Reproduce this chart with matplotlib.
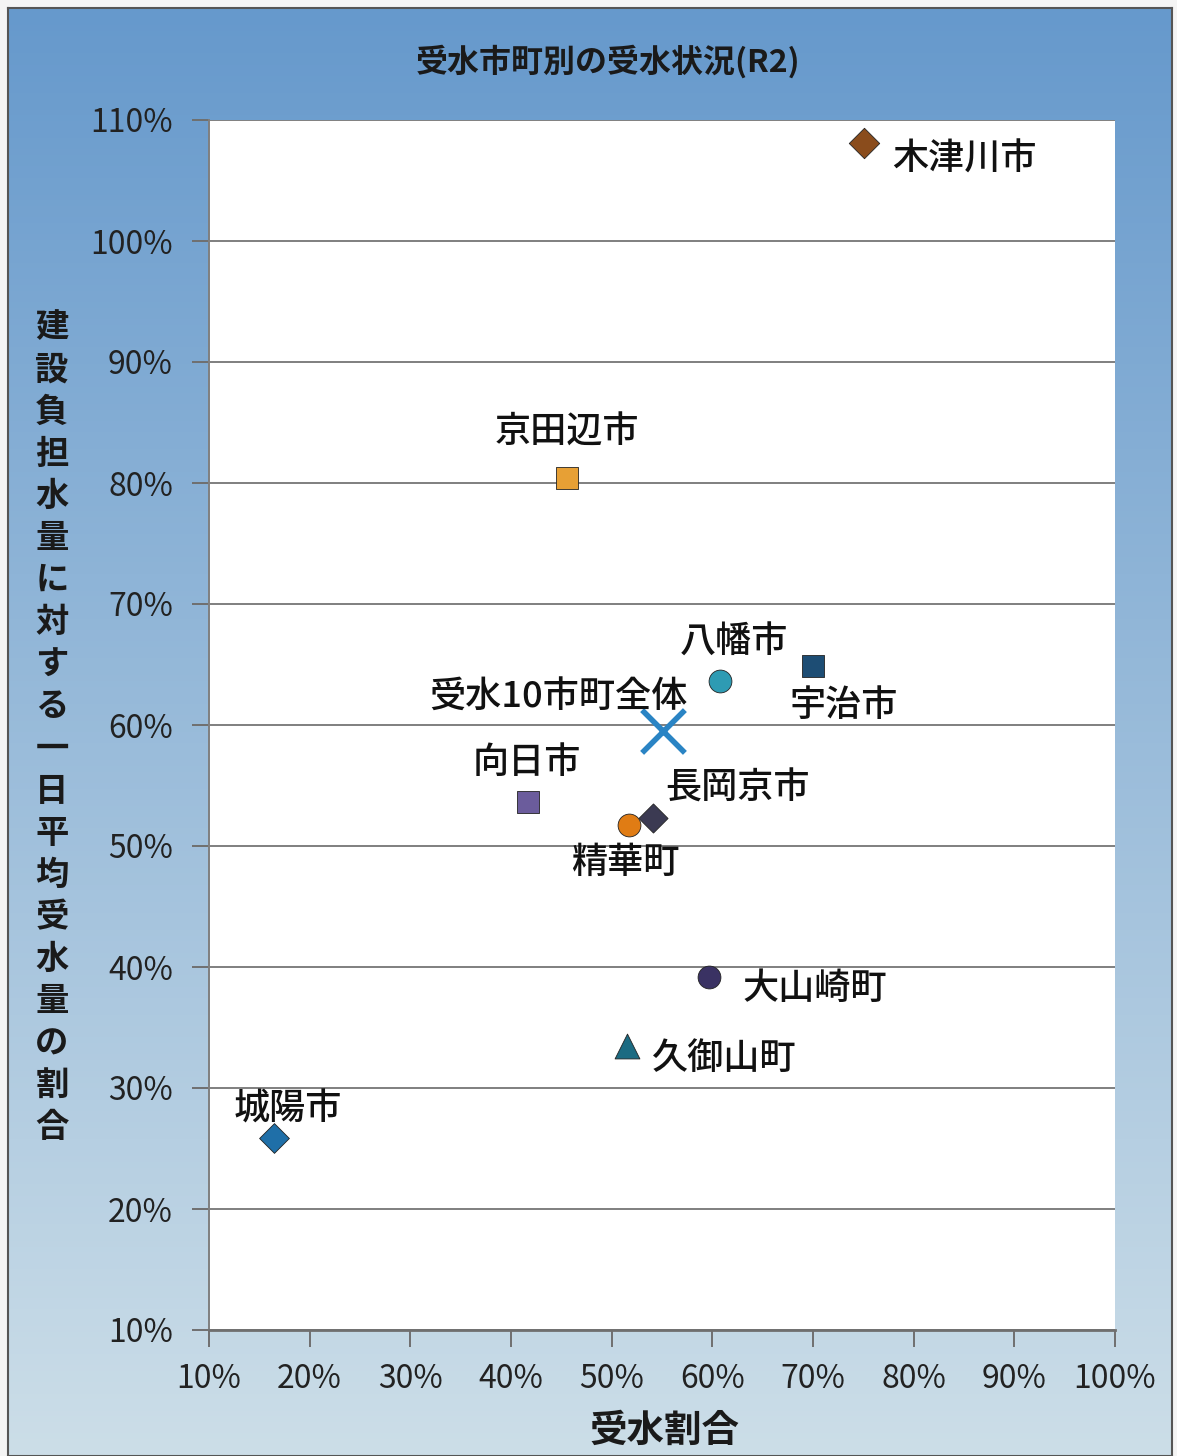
import numpy as np
import matplotlib
matplotlib.use('Agg')
import matplotlib.pyplot as plt

plt.rcParams['font.family'] = ['Noto Sans CJK JP', 'DejaVu Sans']

# data (percent)
names = ['木津川市', '京田辺市', '八幡市', '宇治市', '受水10市町全体', '向日市',
         '長岡京市', '精華町', '大山崎町', '久御山町', '城陽市']
share = [75.1, 45.6, 60.8, 70.0, 55.1, 41.7, 54.1, 51.7, 59.7, 51.5, 16.5]
burden = [108.1, 80.4, 63.6, 64.9, 59.5, 53.6, 52.3, 51.7, 39.2, 33.5, 25.9]
ticks = [10, 20, 30, 40, 50, 60, 70, 80, 90, 100, 110]

# marker styles and label offsets (pixels)
markers = ['D', 's', 'o', 's', 'x', 's', 'D', 'o', 'o', '^', 'D']
colors = ['#8a4c1c', '#e7a035', '#2e9bb3', '#1d4d74', '#2a84c4', '#6b5c9c',
          '#3b3a52', '#e07c14', '#3a3263', '#1c6b82', '#1f6fa8']
sizes = [240, 250, 270, 250, 950, 250, 220, 270, 270, 320, 230]
offsets = [(28, -17, 'left'), (0, 46, 'center'), (14, 39, 'center'),
           (-23, -40, 'left'), (25, 34, 'right'), (-1, 39, 'center'),
           (12, 30, 'left'), (-3, -38, 'center'), (33, -12, 'left'),
           (25, -13, 'left'), (13, 28, 'center')]

fig = plt.figure(figsize=(11.77, 14.56), dpi=100)
fig.patch.set_facecolor('#f4f4f4')

# gradient background panel
bg = fig.add_axes([8/1177, 0, 1164/1177, 1448/1456])
grad = np.linspace(0, 1, 256)[:, None]
top = np.array([0.40, 0.60, 0.80])
bot = np.array([0.80, 0.87, 0.91])
img = top[None, None, :] * (1 - grad[..., None]) + bot[None, None, :] * grad[..., None]
bg.imshow(np.repeat(img, 2, axis=1), aspect='auto', extent=[0, 1, 0, 1])
bg.set_xticks([])
bg.set_yticks([])
for s in bg.spines.values():
    s.set_color('#555555')
    s.set_linewidth(1.5)

ax = fig.add_axes([209/1177, 1 - 1330/1456, 906/1177, 1210/1456])
ax.set_facecolor('white')
ax.set_xlim(10, 100)
ax.set_ylim(10, 110)
ax.set_xticks(ticks[:-1])
ax.set_yticks(ticks)
ax.set_xticklabels([f'{t}%' for t in ticks[:-1]])
ax.set_yticklabels([f'{t}%' for t in ticks])
ax.grid(axis='y', color='#7f7f7f', lw=1.4)
ax.set_axisbelow(True)
for s in ['top', 'right']:
    ax.spines[s].set_visible(False)
ax.spines['left'].set_color('#7f7f7f')
ax.spines['bottom'].set_color('#6f6f6f')
ax.spines['left'].set_linewidth(1.4)
ax.spines['bottom'].set_linewidth(2)
ax.tick_params(axis='both', direction='out', length=12, width=1.4,
               color='#6f6f6f', labelsize=23, labelcolor='#222222')
ax.tick_params(axis='x', pad=12)
ax.tick_params(axis='y', pad=14)

for i in range(len(names)):
    if markers[i] == 'x':
        ax.scatter(share[i], burden[i], s=sizes[i], marker='x', color=colors[i],
                   linewidths=4, zorder=3)
    else:
        ax.scatter(share[i], burden[i], s=sizes[i], marker=markers[i], color=colors[i],
                   edgecolors='#222222', linewidths=0.6, zorder=3)
    dx, dy, ha = offsets[i]
    ax.annotate(names[i], (share[i], burden[i]), xytext=(dx, dy),
                textcoords='offset pixels', ha=ha, va='center',
                fontsize=26, fontweight='medium', color='#111111', zorder=4)

fig.text(608/1177, 1 - 62/1456, '受水市町別の受水状況(R2)', ha='center', va='center',
         fontsize=23, fontweight='bold', color='#1a1a1a')
fig.text(664/1177, 1 - 1430/1456, '受水割合', ha='center', va='center',
         fontsize=27, fontweight='bold', color='#1a1a1a')
ylabel = '建設負担水量に対する一日平均受水量の割合'
fig.text(52/1177, 1 - 728/1456, '\n'.join(ylabel), ha='center', va='center',
         fontsize=24, fontweight='bold', color='#1a1a1a', linespacing=1.35)

fig.savefig('out.png', dpi=100, facecolor=fig.get_facecolor())
